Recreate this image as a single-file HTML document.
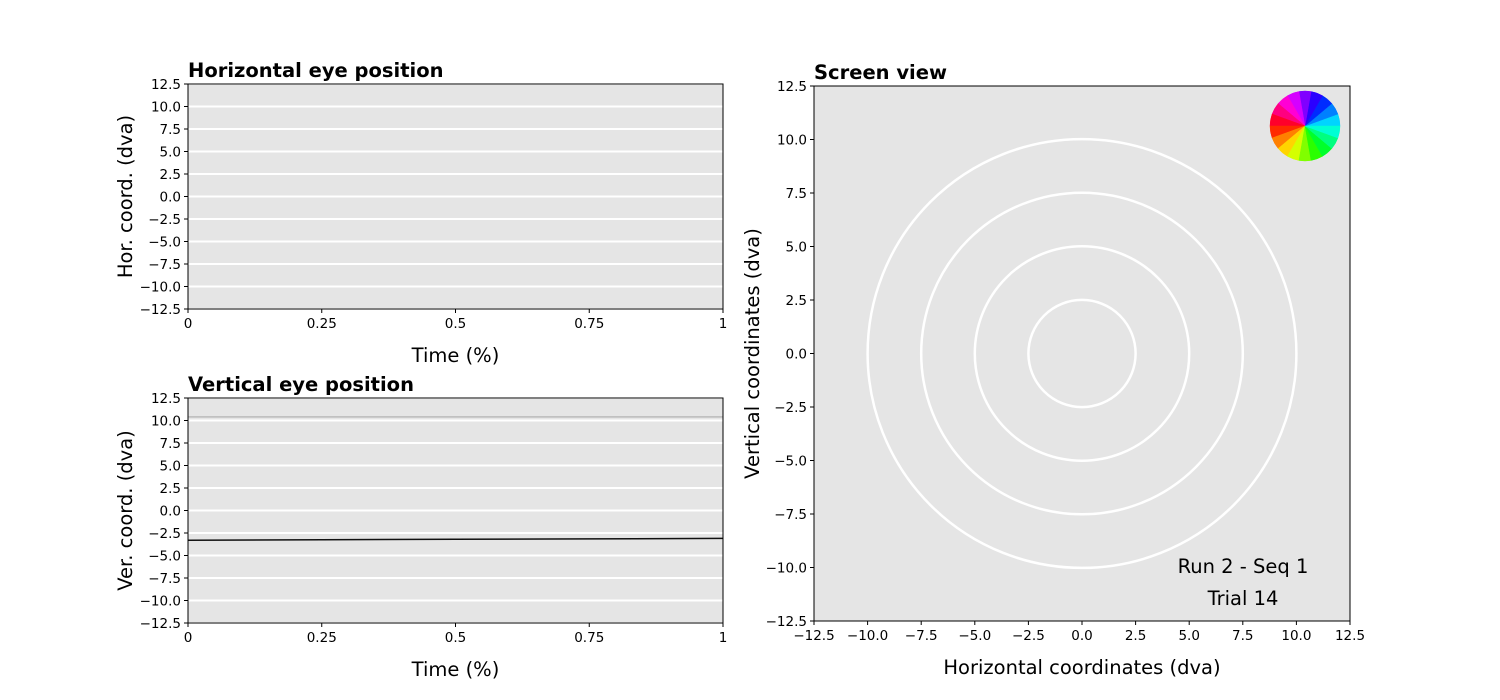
<!DOCTYPE html>
<html><head><meta charset="utf-8">
<style>
body{margin:0;background:#fff;}
svg{display:block;font-family:"DejaVu Sans","Liberation Sans",sans-serif;}
</style></head>
<body>
<svg id="fig" width="1500" height="700" viewBox="0 0 1500 700"></svg>
<script>
// data
const timeTicks=[0,0.25,0.5,0.75,1];
const timeTickLabels=["0","0.25","0.5","0.75","1"];
const yTicks=[12.5,10,7.5,5,2.5,0,-2.5,-5,-7.5,-10,-12.5];
const xTicksScreen=[-12.5,-10,-7.5,-5,-2.5,0,2.5,5,7.5,10,12.5];
const ringRadii=[2.5,5,7.5,10];
const vertGrayTime=[0,1];
const vertGrayVals=[10.4,10.4];
const vertBlackTime=[0,0.25,0.5,0.75,1];
const vertBlackVals=[-3.3,-3.25,-3.2,-3.15,-3.1];
const wheelSegments=18;

const NS="http://www.w3.org/2000/svg";
const svg=document.getElementById('fig');
function el(tag,attrs,parent){const e=document.createElementNS(NS,tag);for(const k in attrs)e.setAttribute(k,attrs[k]);(parent||svg).appendChild(e);return e;}
function fmt(v){return (v<0?"\u2212":"")+Math.abs(v).toFixed(1);}

function panel(name,x0,y0,w,h,xd,yd,title,xlabel,ylabel,xt,xtl,yt,ylx){
  const g=el('g',{});
  
  
  const sx=v=>x0+(v-xd[0])/(xd[1]-xd[0])*w;
  const sy=v=>y0+h-(v-yd[0])/(yd[1]-yd[0])*h;
  const bg=el('rect',{x:x0,y:y0,width:w,height:h,fill:'#e5e5e5'},g);
  
  
  return {g,sx,sy,finish:function(gridH){
    if(gridH){yt.forEach(v=>{const l=el('line',{x1:x0,x2:x0+w,y1:sy(v),y2:sy(v),stroke:'#fff','stroke-width':2},g);});}
  },axes:function(){
    const f=el('rect',{x:x0,y:y0,width:w,height:h,fill:'none',stroke:'#000','stroke-width':1},g);
    
    xt.forEach((v,i)=>{el('line',{x1:sx(v),x2:sx(v),y1:y0+h,y2:y0+h+4,stroke:'#000'},g);
      const t=el('text',{x:sx(v),y:y0+h+19,'font-size':13.5,'text-anchor':'middle'},g);t.textContent=xtl[i];
      });
    yt.forEach(v=>{el('line',{x1:x0-4,x2:x0,y1:sy(v),y2:sy(v),stroke:'#000'},g);
      const t=el('text',{x:x0-7,y:sy(v)+5,'font-size':13.5,'text-anchor':'end'},g);t.textContent=fmt(v);
      });
    const tt=el('text',{x:x0,y:y0-7,'font-size':19.5,'font-weight':'bold'},g);tt.textContent=title;
    
    const xl=el('text',{x:x0+w/2,y:y0+h+53,'font-size':19.5,'text-anchor':'middle'},g);xl.textContent=xlabel;
    
    const yl=el('text',{x:0,y:0,'font-size':19.5,'text-anchor':'middle',transform:`translate(${ylx},${y0+h/2}) rotate(-90)`},g);yl.textContent=ylabel;
    
  }};
}

// Horizontal panel
const p1=panel('horizontal-eye-panel',188,84,535,225,[0,1],[-12.5,12.5],'Horizontal eye position','Time (%)','Hor. coord. (dva)',timeTicks,timeTickLabels,yTicks,132);
p1.finish(true);p1.axes();

// Vertical panel
const p2=panel('vertical-eye-panel',188,398,535,225,[0,1],[-12.5,12.5],'Vertical eye position','Time (%)','Ver. coord. (dva)',timeTicks,timeTickLabels,yTicks,132);
p2.finish(true);
const gl=el('polyline',{points:vertGrayTime.map((t,i)=>p2.sx(t)+','+p2.sy(vertGrayVals[i])).join(' '),fill:'none',stroke:'#bbbbbb','stroke-width':1.5},p2.g);

const bl=el('polyline',{points:vertBlackTime.map((t,i)=>p2.sx(t)+','+p2.sy(vertBlackVals[i])).join(' '),fill:'none',stroke:'#111','stroke-width':1.5},p2.g);

p2.axes();

// Screen panel
const p3=panel('screen-view-panel',814,86,536,535,[-12.5,12.5],[-12.5,12.5],'Screen view','Horizontal coordinates (dva)','Vertical coordinates (dva)',xTicksScreen,xTicksScreen.map(fmt),yTicks,759);
ringRadii.forEach(r=>{const c=el('circle',{cx:p3.sx(0),cy:p3.sy(0),r:p3.sx(r)-p3.sx(0),fill:'none',stroke:'#fff','stroke-width':2.5},p3.g);
  });
// color wheel
const wg=el('g',{},p3.g);

const cx=1305,cy=126,R=35;
for(let i=0;i<wheelSegments;i++){
  const a0=i*360/wheelSegments, a1=(i+1)*360/wheelSegments;
  const r0=a0*Math.PI/180,r1=a1*Math.PI/180;
  const hue=(180+(a0+a1)/2)%360;
  const s=el('path',{d:`M${cx},${cy} L${cx+R*Math.cos(r0)},${cy-R*Math.sin(r0)} A${R},${R} 0 0 0 ${cx+R*Math.cos(r1)},${cy-R*Math.sin(r1)} Z`,fill:`hsl(${hue},100%,50%)`,stroke:`hsl(${hue},100%,50%)`,'stroke-width':0.5},wg);
  
}
const t1=el('text',{x:1243,y:573,'font-size':19.5,'text-anchor':'middle'},p3.g);t1.textContent='Run 2 - Seq 1';

const t2=el('text',{x:1243,y:605,'font-size':19.5,'text-anchor':'middle'},p3.g);t2.textContent='Trial 14';

p3.axes();
</script>
</body></html>
